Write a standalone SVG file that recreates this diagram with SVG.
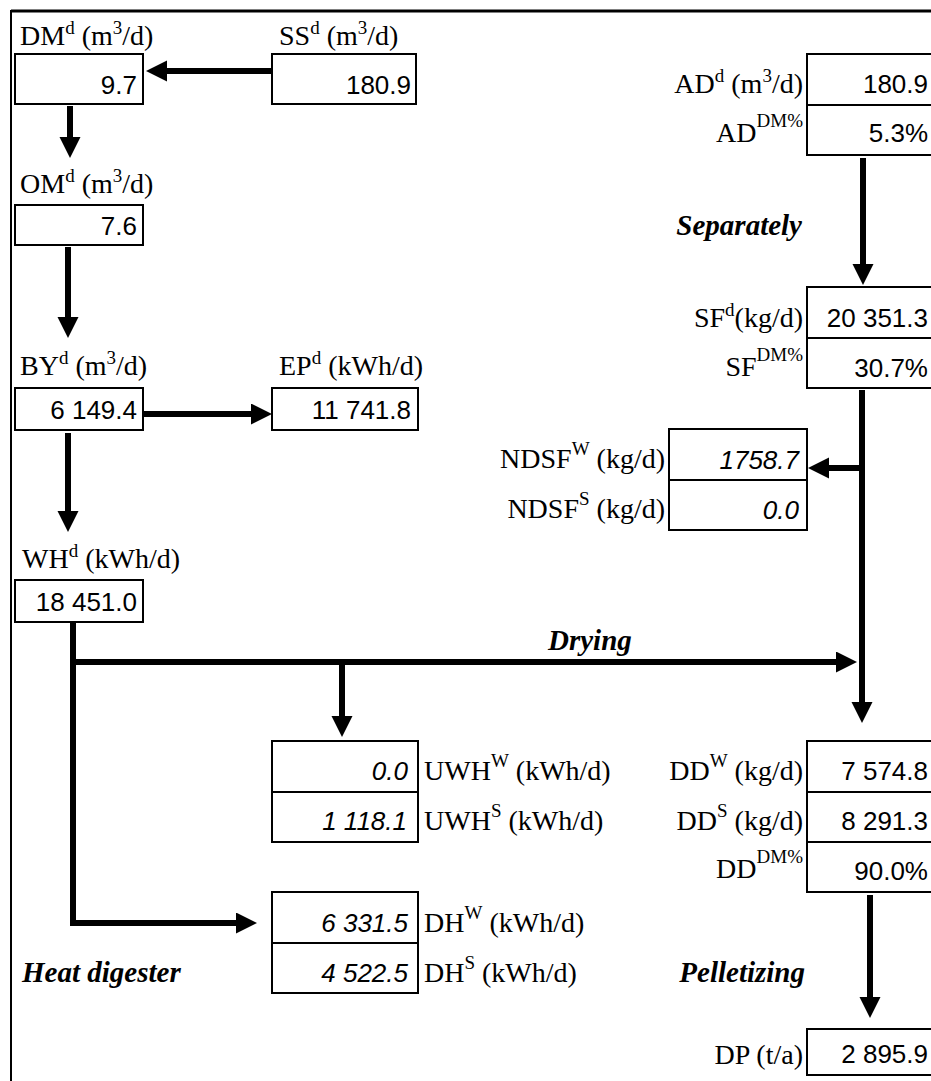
<svg xmlns="http://www.w3.org/2000/svg" width="931" height="1081" viewBox="0 0 931 1081">
<defs>
<marker id="ah" markerUnits="userSpaceOnUse" markerWidth="22" markerHeight="22" refX="9" refY="10.5" orient="auto">
<path d="M0,0 L21,10.5 L0,21 z" fill="#000"/>
</marker>
<style>
.box{fill:#fff;stroke:#000;stroke-width:2}
.lbl{font-family:"Liberation Serif","Times New Roman",serif;font-size:28px;fill:#000}
.sup{font-size:19px}
.val{font-family:"Liberation Sans",Arial,sans-serif;font-size:26px;fill:#000;text-anchor:end}
.it{font-style:italic}
.step{font-family:"Liberation Serif","Times New Roman",serif;font-size:29px;font-weight:bold;font-style:italic;fill:#000}
.end{text-anchor:end}
.conn{fill:none;stroke:#000;stroke-width:6;marker-end:url(#ah)}
</style>
</defs>
<rect width="931" height="1081" fill="#fff"/>
<g id="frame">
<line x1="11" y1="11" x2="931" y2="11" stroke="#000" stroke-width="3"/>
<line x1="11" y1="10" x2="11" y2="1081" stroke="#000" stroke-width="2"/>
</g>

<g id="connectors">
<path class="conn" d="M272,71 H158"/>
<path class="conn" d="M70,106 V146"/>
<path class="conn" d="M68,247 V326"/>
<path class="conn" d="M143,414 H260"/>
<path class="conn" d="M68,433 V520"/>
<path class="conn" d="M73,622 V923 H245"/>
<path class="conn" d="M70,662 H845"/>
<path class="conn" d="M342,662 V725"/>
<path class="conn" d="M863,158 V273"/>
<path class="conn" d="M862,390 V711"/>
<path class="conn" d="M862,468 H820"/>
<path class="conn" d="M870,895 V1006"/>
</g>

<g id="DM">
<text class="lbl" x="20" y="45">DM<tspan class="sup" dy="-11">d</tspan><tspan dy="11"> (m</tspan><tspan class="sup" dy="-11">3</tspan><tspan dy="11">/d)</tspan></text>
<rect class="box" x="15" y="54" width="128" height="50"/>
<text class="val" x="137" y="94">9.7</text>
</g>

<g id="SS">
<text class="lbl" x="279" y="45">SS<tspan class="sup" dy="-11">d</tspan><tspan dy="11"> (m</tspan><tspan class="sup" dy="-11">3</tspan><tspan dy="11">/d)</tspan></text>
<rect class="box" x="272" y="54" width="144" height="50"/>
<text class="val" x="411" y="94">180.9</text>
</g>

<g id="OM">
<text class="lbl" x="20" y="193">OM<tspan class="sup" dy="-11">d</tspan><tspan dy="11"> (m</tspan><tspan class="sup" dy="-11">3</tspan><tspan dy="11">/d)</tspan></text>
<rect class="box" x="15" y="205" width="128" height="40"/>
<text class="val" x="137" y="235">7.6</text>
</g>

<g id="BY">
<text class="lbl" x="20" y="375">BY<tspan class="sup" dy="-11">d</tspan><tspan dy="11"> (m</tspan><tspan class="sup" dy="-11">3</tspan><tspan dy="11">/d)</tspan></text>
<rect class="box" x="15" y="388" width="128" height="42"/>
<text class="val" x="137" y="419">6 149.4</text>
</g>

<g id="EP">
<text class="lbl" x="279" y="375">EP<tspan class="sup" dy="-11">d</tspan><tspan dy="11"> (kWh/d)</tspan></text>
<rect class="box" x="272" y="388" width="146" height="42"/>
<text class="val" x="411" y="419">11 741.8</text>
</g>

<g id="WH">
<text class="lbl" x="22" y="568">WH<tspan class="sup" dy="-11">d</tspan><tspan dy="11"> (kWh/d)</tspan></text>
<rect class="box" x="15" y="580" width="128" height="42"/>
<text class="val" x="137" y="611">18 451.0</text>
</g>

<g id="AD">
<rect class="box" x="807" y="54" width="130" height="51"/>
<rect class="box" x="807" y="105" width="130" height="50"/>
<text class="lbl end" x="803" y="93">AD<tspan class="sup" dy="-11">d</tspan><tspan dy="11"> (m</tspan><tspan class="sup" dy="-11">3</tspan><tspan dy="11">/d)</tspan></text>
<text class="lbl end" x="803" y="142">AD<tspan class="sup" dy="-15">DM%</tspan></text>
<text class="val" x="928" y="93">180.9</text>
<text class="val" x="928" y="142">5.3%</text>
</g>

<text class="step end" x="802" y="235">Separately</text>

<g id="SF">
<rect class="box" x="807" y="287" width="130" height="51"/>
<rect class="box" x="807" y="338" width="130" height="50"/>
<text class="lbl end" x="803" y="327">SF<tspan class="sup" dy="-11">d</tspan><tspan dy="11">(kg/d)</tspan></text>
<text class="lbl end" x="803" y="376">SF<tspan class="sup" dy="-15">DM%</tspan></text>
<text class="val" x="928" y="327">20 351.3</text>
<text class="val" x="928" y="377">30.7%</text>
</g>

<g id="NDSF">
<rect class="box" x="669" y="429" width="138" height="51"/>
<rect class="box" x="669" y="480" width="138" height="50"/>
<text class="lbl end" x="665" y="468">NDSF<tspan class="sup" dy="-13">W</tspan><tspan dy="13"> (kg/d)</tspan></text>
<text class="lbl end" x="665" y="518">NDSF<tspan class="sup" dy="-13">S</tspan><tspan dy="13"> (kg/d)</tspan></text>
<text class="val it" x="799" y="469">1758.7</text>
<text class="val it" x="799" y="519">0.0</text>
</g>

<text class="step" x="548" y="650">Drying</text>

<g id="UWH">
<rect class="box" x="272" y="741" width="146" height="51"/>
<rect class="box" x="272" y="792" width="146" height="50"/>
<text class="val it" x="408" y="780">0.0</text>
<text class="val it" x="407" y="830">1 118.1</text>
<text class="lbl" x="424" y="780">UWH<tspan class="sup" dy="-13">W</tspan><tspan dy="13"> (kWh/d)</tspan></text>
<text class="lbl" x="424" y="830">UWH<tspan class="sup" dy="-13">S</tspan><tspan dy="13"> (kWh/d)</tspan></text>
</g>

<g id="DH">
<rect class="box" x="272" y="892" width="146" height="51"/>
<rect class="box" x="272" y="943" width="146" height="50"/>
<text class="val it" x="408" y="932">6 331.5</text>
<text class="val it" x="408" y="982">4 522.5</text>
<text class="lbl" x="424" y="932">DH<tspan class="sup" dy="-13">W</tspan><tspan dy="13"> (kWh/d)</tspan></text>
<text class="lbl" x="424" y="982">DH<tspan class="sup" dy="-13">S</tspan><tspan dy="13"> (kWh/d)</tspan></text>
</g>

<text class="step" x="22" y="982">Heat digester</text>

<g id="DD">
<rect class="box" x="807" y="741" width="130" height="51"/>
<rect class="box" x="807" y="792" width="130" height="50"/>
<rect class="box" x="807" y="842" width="130" height="50"/>
<text class="lbl end" x="803" y="780">DD<tspan class="sup" dy="-13">W</tspan><tspan dy="13"> (kg/d)</tspan></text>
<text class="lbl end" x="803" y="830">DD<tspan class="sup" dy="-13">S</tspan><tspan dy="13"> (kg/d)</tspan></text>
<text class="lbl end" x="803" y="878">DD<tspan class="sup" dy="-15">DM%</tspan></text>
<text class="val" x="928" y="780">7 574.8</text>
<text class="val" x="928" y="830">8 291.3</text>
<text class="val" x="928" y="880">90.0%</text>
</g>

<text class="step end" x="805" y="982">Pelletizing</text>

<g id="DP">
<rect class="box" x="807" y="1029" width="130" height="46"/>
<text class="lbl end" x="803" y="1064">DP (t/a)</text>
<text class="val" x="928" y="1063">2 895.9</text>
</g>
</svg>
